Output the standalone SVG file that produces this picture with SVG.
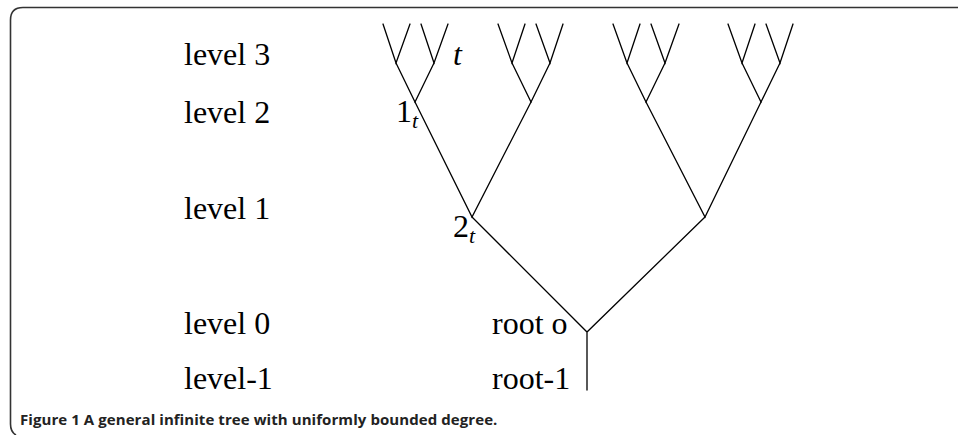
<svg xmlns="http://www.w3.org/2000/svg" width="958" height="435" viewBox="0 0 958 435">
<style>
.lbl{font-family:"Liberation Serif","Times New Roman",serif;font-size:32px;fill:#000}
.it{font-style:italic}
.sub{font-size:22px;font-style:italic}
.edge{stroke:#000;stroke-width:1.3;fill:none;stroke-linecap:round}
.frame{stroke:#333;stroke-width:1.6;fill:none}
.cap{font-family:"Open Sans","Liberation Sans",sans-serif;font-size:15px;font-weight:bold;fill:#222}
</style>
<rect width="958" height="435" fill="#fff"/>
<path class="frame" d="M958,7.5 H23 Q10.5,7.5 10.5,20 V424 Q10.5,432 16,435"/>
<g id="level-labels">
<g id="lv3"><text class="lbl" x="184" y="65">level 3</text></g>
<g id="lv2"><text class="lbl" x="184" y="123">level 2</text></g>
<g id="lv1"><text class="lbl" x="184" y="219">level 1</text></g>
<g id="lv0"><text class="lbl" x="184" y="334">level 0</text></g>
<g id="lvm1"><text class="lbl" x="184" y="389">level-1</text></g>
</g>
<g id="connectors">
<path class="edge" d="M587,390 V332 M472,217 L587,332 L705,217"/>
<path class="edge" d="M415,102 L472,217 L531,102 M646,102 L705,217 L761,102"/>
<path class="edge" d="M396,63 L415,102 L434,63 M512,63 L531,102 L550,63 M627,63 L646,102 L665,63 M742,63 L761,102 L780,63"/>
<path class="edge" d="M383,24 L396,63 L410,24 M421,24 L434,63 L448,24 M498,24 L512,63 L525,24 M536,24 L550,63 L563,24 M613,24 L627,63 L640,24 M651,24 L665,63 L679,24 M728,24 L742,63 L755,24 M766,24 L780,63 L793,24"/>
</g>
<g id="node-root"><text class="lbl" x="492" y="334">root o</text></g>
<g id="node-root-1"><text class="lbl" x="492" y="389">root-1</text></g>
<g id="node-1t"><text class="lbl" x="396" y="122">1</text><text class="lbl sub" x="412" y="128">t</text></g>
<g id="node-2t"><text class="lbl" x="453" y="237">2</text><text class="lbl sub" x="469" y="243">t</text></g>
<g id="node-t"><text class="lbl it" x="453" y="65">t</text></g>
<g id="caption"><text class="cap" x="20" y="425" textLength="473">Figure 1 A general infinite tree with uniformly bounded degree</text><text class="cap" x="493" y="425" font-weight="normal">.</text></g>
</svg>
